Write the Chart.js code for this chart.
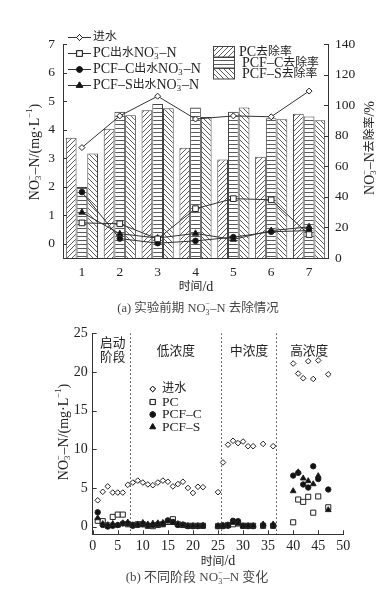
<!DOCTYPE html>
<html><head><meta charset="utf-8">
<script src="https://cdn.jsdelivr.net/npm/chart.js@4.4.1/dist/chart.umd.min.js"></script>
<style>
html,body{margin:0;padding:0;background:#fff}
body{width:386px;height:591px;overflow:hidden;position:relative}
#ca{position:absolute;left:0;top:0}
#cb{position:absolute;left:0;top:320px}
</style></head><body>
<canvas id="ca" width="386" height="320"></canvas>
<canvas id="cb" width="386" height="271"></canvas>
<script>
// ---------- DATA (a) ----------
const daysA = ['1','2','3','4','5','6','7'];
const inflowA = [3.37,4.48,5.17,4.37,4.48,4.45,5.35];
const pcA     = [0.73,0.70,0.17,1.23,1.58,1.54,0.32];
const pcfcA   = [1.81,0.18,0.02,0.10,0.23,0.42,0.46];
const pcfsA   = [1.10,0.35,0.20,0.36,0.15,0.46,0.59];
const pcRate   = [78.7,84.6,96.7,72.1,64.4,66.2,94.3];
const pcfcRate = [46.4,95.6,100.7,98.5,95.6,91.4,92.5];
const pcfsRate = [68.4,93.4,98.0,92.3,98.5,90.8,90.1];
const leftTicksA  = [0,1,2,3,4,5,6,7];
const rightTicksA = [0,20,40,60,80,100,120,140];

// ---------- DATA (b) ----------
const daysB = [1,2,3,4,5,6,7,8,9,10,11,12,13,14,15,16,17,18,19,20,21,22,25,26,27,28,29,30,31,32,34,36,40,41,42,43,44,45,47];
const inflowB = [3.4,4.5,5.2,4.4,4.4,4.4,5.4,5.7,5.95,5.7,5.45,5.35,5.7,5.95,5.8,5.2,5.5,5.8,5.0,4.35,5.15,5.1,
                 4.45,8.3,10.6,11.1,10.8,11.0,10.4,10.4,10.7,10.4,
                 21.1,19.8,19.2,21.4,19.1,21.5,19.7];
const pcB   = [0.75,0.7,0.15,1.25,1.55,1.55,0.3,0.2,0.3,0.3,0.1,0.05,0.2,0.3,0.6,0.95,0.3,0.2,0.1,0.1,0.1,0.1,
               0.05,0.1,0.2,0.3,0.4,0.1,0.1,0.1,0.1,0.1,
               0.55,3.5,3.2,3.85,1.8,3.9,2.5];
const pcfcB = [1.85,0.2,0.0,0.1,0.2,0.4,0.4,0.1,0.2,0.3,0.15,0.2,0.3,0.35,0.8,0.6,0.2,0.25,0.05,0.05,0.05,0.1,
               0.05,0.05,0.1,0.75,0.7,0.1,0.05,0.05,0.15,0.1,
               6.6,6.95,5.45,5.05,7.8,6.15,4.8];
const pcfsB = [1.1,0.35,0.2,0.35,0.15,0.45,0.55,0.2,0.3,0.5,0.3,0.4,0.45,0.5,0.7,0.5,0.35,0.2,0.1,0.1,0.1,0.15,
               0.1,0.15,0.2,0.5,0.4,0.05,0.1,0.1,0.3,0.3,
               4.6,7.05,6.25,5.9,5.5,6.55,2.15];
const stageBounds = [7.5,25.5,36.5];
const stageNames = [['启动','阶段'],['低浓度'],['中浓度'],['高浓度']];
const stageCenters = [4,16.6,31.2,43.2];
const xTicksB = [0,5,10,15,20,25,30,35,40,45,50];
const yTicksB = [0,5,10,15,20,25];

// ---------- helpers ----------
const FAM = "'Liberation Serif','Noto Sans CJK SC',serif";
const TXT = '#222';
const CJK = /[\u3000-\u9fff\uff00-\uffef]/;
function runs(str){
  const out = []; let cur = '', curC = null;
  for (const ch of str){
    const c = CJK.test(ch);
    if (curC === null || c === curC){ cur += ch; curC = c; }
    else { out.push([cur,curC]); cur = ch; curC = c; }
  }
  if (cur) out.push([cur,curC]);
  return out;
}
function rich(ctx, x, y, segs, size, align, color, cjkF){
  cjkF = cjkF || 0.85;
  const small = size*0.62;
  const parts = []; let w = 0;
  for (const s of segs){
    if (typeof s === 'string'){
      for (const [t,c] of runs(s)){
        const fs = c ? size*cjkF : size;
        ctx.font = fs+'px '+FAM; const m = ctx.measureText(t).width; parts.push({k:'n',t,w:m,fs}); w+=m;
      }
    }
    else if (s.k === 'ss'){ ctx.font = small+'px '+FAM; const m = Math.max(ctx.measureText(s.sub).width, ctx.measureText(s.sup).width); parts.push(Object.assign({w:m+0.5},s)); w+=m+0.5; }
    else { ctx.font = small+'px '+FAM; const m = ctx.measureText(s.t).width; parts.push(Object.assign({w:m},s)); w+=m; }
  }
  let cx = align==='center' ? x-w/2 : (align==='right' ? x-w : x);
  ctx.fillStyle = color || TXT; ctx.textBaseline = 'middle'; ctx.textAlign = 'left';
  for (const p of parts){
    if (p.k==='n'){ ctx.font = p.fs+'px '+FAM; ctx.fillText(p.t, cx, y); }
    else if (p.k==='ss'){ ctx.font = small+'px '+FAM; ctx.fillText(p.sub, cx, y+size*0.3); ctx.fillText(p.sup, cx, y-size*0.38); }
    else if (p.k==='sub'){ ctx.font = small+'px '+FAM; ctx.fillText(p.t, cx, y+size*0.3); }
    else if (p.k==='sup'){ ctx.font = small+'px '+FAM; ctx.fillText(p.t, cx, y-size*0.38); }
    cx += p.w;
  }
}
function richRot(ctx, x, y, segs, size){
  ctx.save(); ctx.translate(x,y); ctx.rotate(-Math.PI/2); rich(ctx,0,0,segs,size,'center'); ctx.restore();
}
const NO3 = ['NO',{k:'ss',sub:'3',sup:'−'},'–N'];

function pattern(type){
  const c = document.createElement('canvas');
  const p = type==='h' ? 4 : 5;
  c.width = p; c.height = p;
  const g = c.getContext('2d');
  g.fillStyle = '#fff'; g.fillRect(0,0,p,p);
  g.strokeStyle = '#4a4a4a'; g.lineWidth = 0.9;
  g.beginPath();
  if (type==='h'){ g.moveTo(0,0.5); g.lineTo(p,0.5); }
  else if (type==='f'){ g.moveTo(0,p); g.lineTo(p,0); g.moveTo(-1,1); g.lineTo(1,-1); g.moveTo(p-1,p+1); g.lineTo(p+1,p-1); }
  else { g.moveTo(0,0); g.lineTo(p,p); g.moveTo(-1,p-1); g.lineTo(1,p+1); g.moveTo(p-1,-1); g.lineTo(p+1,1); }
  g.stroke();
  return g.createPattern(c,'repeat');
}
const ctxA = document.getElementById('ca').getContext('2d');
const patF = pattern('f'), patH = pattern('h'), patB = pattern('b');

function inTicks(ctx, scale, side, len){
  ctx.save(); ctx.strokeStyle = '#333'; ctx.lineWidth = 1; ctx.beginPath();
  for (const t of scale.ticks){
    const v = t.value;
    if (side==='left'){ const y = Math.round(scale.getPixelForValue(v))+0.5; ctx.moveTo(scale.right, y); ctx.lineTo(scale.right+len, y); }
    if (side==='right'){ const y = Math.round(scale.getPixelForValue(v))+0.5; ctx.moveTo(scale.left, y); ctx.lineTo(scale.left-len, y); }
    if (side==='bottom'){ const x = Math.round(scale.getPixelForValue(v))+0.5; ctx.moveTo(x, scale.top); ctx.lineTo(x, scale.top-len); }
  }
  ctx.stroke(); ctx.restore();
}
function marker(ctx, style, x, y, r, fill){
  Chart.helpers.drawPoint(ctx, {pointStyle:style, radius:r, rotation:0, borderWidth:1}, x, y);
  ctx.fillStyle = fill; ctx.fill(); ctx.strokeStyle = '#222'; ctx.lineWidth = 1; ctx.stroke();
}

const tickFontA = {family: FAM, size: 13.5};
const tickFontB = {family: FAM, size: 14};

// ---------- chart (a) ----------
const lineDs = (label, data, style, r, fill) => ({
  type:'line', label, data, yAxisID:'y', order:0,
  borderColor:'#333', borderWidth:1, pointStyle:style, pointRadius:r,
  pointBackgroundColor:fill, pointBorderColor:'#222', pointBorderWidth:1, tension:0
});
const barDs = (label, data, pat) => ({
  type:'bar', label, data, yAxisID:'y1', order:5,
  backgroundColor:pat, borderColor:'#444', borderWidth:1,
  categoryPercentage:0.85, barPercentage:1.0
});

const pluginA = {
  id:'decorA',
  afterDraw(chart){
    const ctx = chart.ctx, s = chart.scales;
    inTicks(ctx, s.y, 'left', 4);
    inTicks(ctx, s.y1, 'right', 4);
    richRot(ctx, 35, 152, NO3.concat(['/(mg·L',{k:'sup',t:'−1'},')']), 14);
    richRot(ctx, 370, 148, NO3.concat(['去除率/%']), 14);
    rich(ctx, 196, 287, ['时间/d'], 14, 'center');
    rich(ctx, 198, 309, ['(a) 实验前期 NO',{k:'ss',sub:'3',sup:'−'},'–N 去除情况'], 12.5, 'center', '#444', 1);
    // line legend
    const L = [['rectRot',3,'#fff',[ '进水' ]],
               ['rect',4,'#fff',['PC出水'].concat(NO3)],
               ['circle',2.8,'#111',['PCF–C出水'].concat(NO3)],
               ['triangle',3.6,'#111',['PCF–S出水'].concat(NO3)]];
    const rows = [37,53,69,85];
    L.forEach((it,i)=>{
      const y = rows[i]+0.5;
      ctx.save(); ctx.strokeStyle='#333'; ctx.lineWidth=1; ctx.beginPath(); ctx.moveTo(68,y); ctx.lineTo(91,y); ctx.stroke(); ctx.restore();
      ctx.save(); marker(ctx, it[0], 79.5, y, it[1], it[2]); ctx.restore();
      rich(ctx, 93, rows[i], it[3], 14, 'left');
    });
    // bar legend
    const B = [[patF,['PC去除率'],239],[patH,['PCF–C去除率'],242],[patB,['PCF–S去除率'],242]];
    const tops = [46.5,57.5,68.5];
    B.forEach((it,i)=>{
      ctx.save(); ctx.fillStyle = it[0]; ctx.fillRect(213.5,tops[i],21,10.5);
      ctx.strokeStyle='#444'; ctx.lineWidth=1; ctx.strokeRect(213.5,tops[i],21,10.5); ctx.restore();
      rich(ctx, it[2], tops[i]+5.5, it[1], 14, 'left');
    });
  }
};

new Chart(ctxA, {
  data:{
    labels: daysA,
    datasets:[
      lineDs('进水', inflowA, 'rectRot', 3, '#fff'),
      lineDs('PC出水', pcA, 'rect', 4, '#fff'),
      lineDs('PCF-C出水', pcfcA, 'circle', 2.8, '#111'),
      lineDs('PCF-S出水', pcfsA, 'triangle', 3.6, '#111'),
      barDs('PC去除率', pcRate, patF),
      barDs('PCF-C去除率', pcfcRate, patH),
      barDs('PCF-S去除率', pcfsRate, patB)
    ]
  },
  options:{
    responsive:false, animation:false, devicePixelRatio:1,
    layout:{padding:{top:44,left:0,right:0,bottom:0}},
    plugins:{legend:{display:false}, tooltip:{enabled:false}},
    scales:{
      x:{type:'category', offset:true, grid:{display:false,drawTicks:false}, border:{display:true,color:'#333',width:1},
         ticks:{font:tickFontA,color:TXT,padding:6, maxRotation:0}, afterFit:s=>{s.height=62;}},
      y:{type:'linear', position:'left', min:-0.5, max:7, grid:{display:false,drawTicks:false}, border:{display:true,color:'#333',width:1},
         afterBuildTicks:s=>{s.ticks = leftTicksA.map(v=>({value:v}));},
         ticks:{font:tickFontA,color:TXT,padding:8,callback:v=>String(v)}, afterFit:s=>{s.width=63;}},
      y1:{type:'linear', position:'right', min:0, max:140, grid:{display:false,drawTicks:false}, border:{display:true,color:'#333',width:1},
         afterBuildTicks:s=>{s.ticks = rightTicksA.map(v=>({value:v}));},
         ticks:{font:tickFontA,color:TXT,padding:7,callback:v=>String(v)}, afterFit:s=>{s.width=58;}}
    }
  },
  plugins:[pluginA]
});

// ---------- chart (b) ----------
const pts = arr => daysB.map((d,i)=>({x:d, y:arr[i]}));
const sc = (label, arr, style, r, fill, order) => ({
  label, data:pts(arr), showLine:false, pointStyle:style, pointRadius:r,
  pointBackgroundColor:fill, pointBorderColor:'#222', pointBorderWidth:1, order
});
const pluginB = {
  id:'decorB',
  beforeDatasetsDraw(chart){
    const ctx = chart.ctx, x = chart.scales.x, a = chart.chartArea;
    ctx.save(); ctx.strokeStyle='#444'; ctx.lineWidth=1; ctx.setLineDash([1.5,2.5]);
    stageBounds.forEach(b=>{ const px = Math.round(x.getPixelForValue(b))+0.5; ctx.beginPath(); ctx.moveTo(px,a.top); ctx.lineTo(px,a.bottom); ctx.stroke(); });
    ctx.restore();
  },
  afterDraw(chart){
    const ctx = chart.ctx, s = chart.scales;
    inTicks(ctx, s.y, 'left', 4);
    inTicks(ctx, s.x, 'bottom', 4);
    stageNames.forEach((n,i)=>{
      const px = s.x.getPixelForValue(stageCenters[i]);
      if (n.length===2){ rich(ctx, px, 24, [n[0]], 12.7, 'center', TXT, 1); rich(ctx, px, 37.5, [n[1]], 12.7, 'center', TXT, 1); }
      else rich(ctx, px, 31.5, [n[0]], 12.7, 'center', TXT, 1);
    });
    richRot(ctx, 64, 112, NO3.concat(['/(mg·L',{k:'sup',t:'−1'},')']), 14);
    rich(ctx, 218, 241.5, ['时间/d'], 14, 'center');
    rich(ctx, 197, 257.5, ['(b) 不同阶段 NO',{k:'ss',sub:'3',sup:'−'},'–N 变化'], 13, 'center', '#444', 1);
    const L = [['rectRot',2.8,'#fff','进水'],['rect',3.6,'#fff','PC'],['circle',2.7,'#111','PCF–C'],['triangle',3.3,'#111','PCF–S']];
    const rows = [69,82,94.5,107];
    L.forEach((it,i)=>{
      ctx.save(); marker(ctx, it[0], 152.7, rows[i], it[1], it[2]); ctx.restore();
      rich(ctx, 162, rows[i], [it[3]], 13.5, 'left', TXT, 0.9);
    });
  }
};
new Chart(document.getElementById('cb').getContext('2d'), {
  type:'scatter',
  data:{datasets:[
    sc('进水', inflowB, 'rectRot', 2.8, '#fff', 4),
    sc('PC', pcB, 'rect', 3.6, '#fff', 3),
    sc('PCF-C', pcfcB, 'circle', 2.7, '#111', 2),
    sc('PCF-S', pcfsB, 'triangle', 3.3, '#111', 1)
  ]},
  options:{
    responsive:false, animation:false, devicePixelRatio:1,
    layout:{padding:{top:13.3,left:0,right:42.7,bottom:0}},
    plugins:{legend:{display:false}, tooltip:{enabled:false}},
    scales:{
      x:{type:'linear', min:0, max:50, grid:{display:false,drawTicks:false}, border:{display:true,color:'#333',width:1},
         afterBuildTicks:s=>{s.ticks = xTicksB.map(v=>({value:v}));},
         ticks:{font:tickFontB,color:TXT,padding:4,maxRotation:0,callback:v=>String(v)}, afterFit:s=>{s.height=56.7;}},
      y:{type:'linear', min:-1, max:25, grid:{display:false,drawTicks:false}, border:{display:true,color:'#333',width:1},
         afterBuildTicks:s=>{s.ticks = yTicksB.map(v=>({value:v}));},
         ticks:{font:tickFontB,color:TXT,padding:5,callback:v=>String(v)}, afterFit:s=>{s.width=92.7;}}
    }
  },
  plugins:[pluginB]
});
</script>
</body></html>
